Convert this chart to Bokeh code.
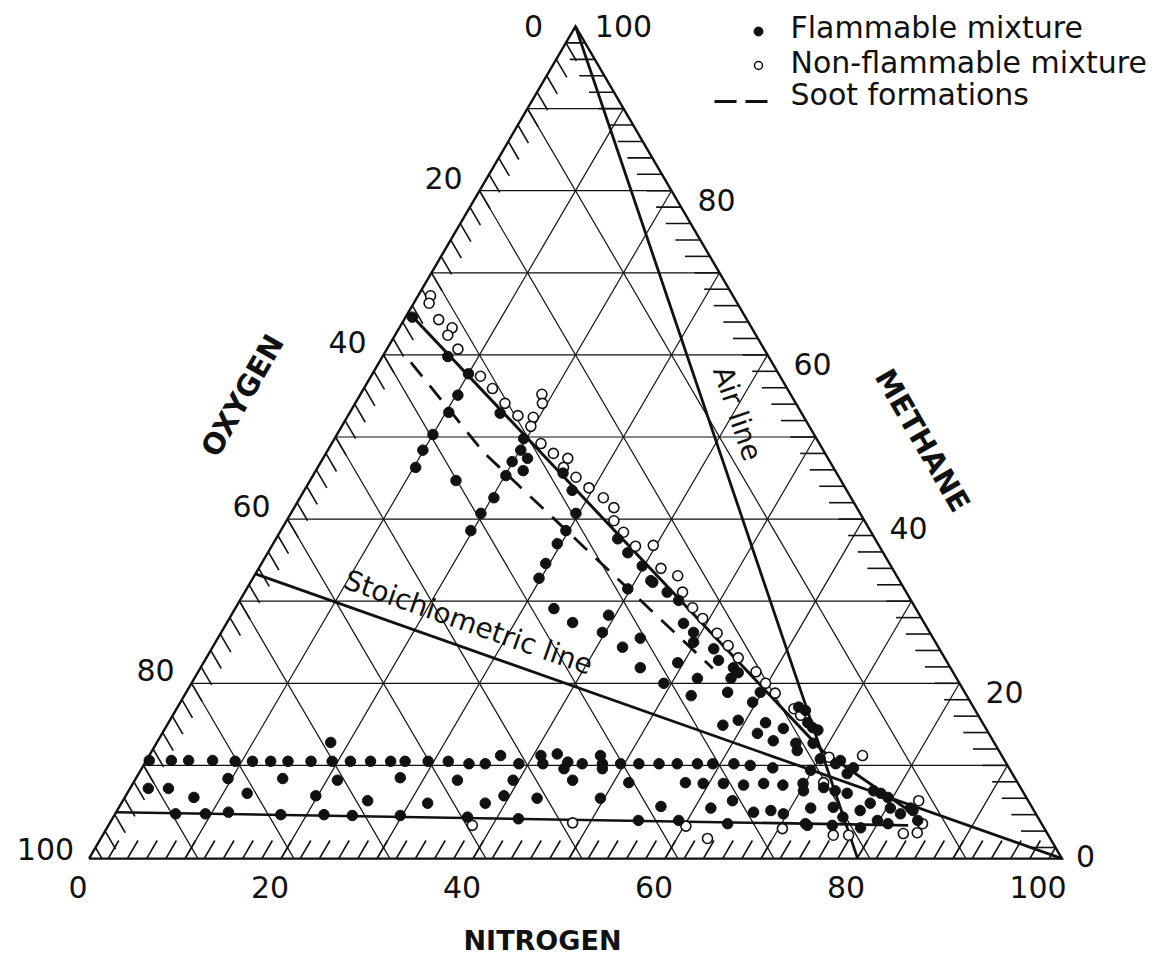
import numpy as np
from bokeh.plotting import figure
from bokeh.models import Range1d
from bokeh.core.properties import value
from bokeh.embed import file_html
from bokeh.resources import INLINE

# ---------------- data (ternary %) ----------------
# flammable mixtures: upper-left experiments
flam_a_nitrogen = [0.7, 6.8, 10.0, 10.2, 10.3, 10.0, 9.9, 10.2, 15.7, 19.7, 20.1, 19.9, 21.3, 21.6, 20.1, 20.2,
                   15.2, 25.9, 27.9, 19.8, 19.8, 29.7, 29.7, 29.6, 29.6, 29.8]
flam_a_methane = [64.6, 59.8, 57.7, 55.1, 53.0, 50.3, 48.4, 46.3, 52.9, 49.8, 48.4, 47.0, 47.4, 45.9, 45.3, 42.6,
                  44.7, 45.6, 43.5, 40.7, 38.6, 40.7, 38.6, 37.0, 34.6, 32.8]
# flammable mixtures: middle band
flam_b_nitrogen = [35.6, 37.5, 39.8, 41.9, 44.0, 45.7, 39.7, 39.3, 39.7, 33.2, 36.0, 42.7, 45.8, 47.6, 49.2, 49.8,
                   52.3, 53.5, 55.5, 56.3, 52.4, 55.9, 56.4, 52.8, 49.4, 49.2, 41.6, 44.0, 59.8, 59.6, 65.6, 66.6, 64.7]
flam_b_methane = [37.6, 35.9, 34.3, 32.3, 31.1, 30.1, 31.5, 28.3, 26.2, 29.1, 27.4, 24.4, 21.9, 27.3, 26.2, 25.0,
                  24.2, 22.8, 21.9, 21.3, 20.6, 20.6, 18.9, 18.5, 22.5, 20.0, 32.5, 25.5, 18.9, 17.7, 16.7, 15.2, 17.1]
# flammable mixtures: cluster near the nose of the envelope
flam_c_nitrogen = [57.9, 59.2, 62.2, 62.0, 64.4, 64.1, 67.2, 68.4, 68.1, 70.1, 72.0, 73.8, 74.1, 69.8, 70.3, 72.2,
                   73.6, 75.0, 74.4, 76.0, 77.4, 78.0, 78.5, 80.4, 81.8, 82.5, 84.0, 67.8, 72.1, 69.6, 72.5, 75.4,
                   78.5, 81.1, 79.8, 63.2, 65.7, 63.7, 65.7, 69.8, 66.4, 68.1, 77.6, 79.5, 82.9, 72.3, 67.4, 66.6]
flam_c_methane = [14.9, 15.5, 15.2, 13.9, 14.5, 13.0, 11.8, 12.7, 14.3, 10.8, 10.2, 9.0, 9.7, 9.4, 6.9, 7.3,
                  6.9, 6.6, 4.9, 3.7, 4.5, 5.4, 6.6, 4.8, 4.1, 4.8, 3.3, 7.6, 4.8, 4.1, 2.9, 2.7,
                  2.4, 2.9, 3.3, 10.0, 9.7, 7.6, 7.8, 7.8, 4.3, 4.5, 6.9, 6.1, 4.5, 10.6, 14.6, 12.7]
# flammable mixtures: row near 10 % methane
flam_row10_nitrogen = [0.3, 2.6, 4.4, 6.9, 9.3, 11.1, 13.0, 14.8, 17.2, 19.4, 21.3, 23.4, 25.5, 27.0, 29.4, 31.5,
                       33.8, 35.5, 36.6, 39.0, 40.8, 41.5, 42.4, 44.0, 44.0, 45.6, 45.6, 47.0, 47.7, 48.0,
                       49.6, 51.5, 53.6, 55.5, 57.6, 59.2, 61.4, 18.1]
flam_row10_methane = [10.6, 10.6, 10.6, 10.6, 10.5, 10.5, 10.5, 10.5, 10.5, 10.5, 10.5, 10.5, 10.5, 10.5, 10.5, 10.5,
                      10.2, 10.2, 11.2, 10.2, 11.2, 10.2, 11.4, 9.6, 10.4, 8.2, 10.2, 11.2, 10.2, 9.6,
                      10.2, 10.2, 10.2, 10.2, 10.2, 10.2, 10.2, 12.8]
# flammable mixtures: between the two low rows
flam_mid_nitrogen = [1.9, 4.0, 7.2, 9.6, 12.5, 15.3, 19.8, 21.1, 25.5, 27.5, 31.9, 33.6, 37.9, 39.4, 39.4, 43.0,
                     49.6, 51.6, 56.4, 57.5, 59.4, 61.7, 61.5, 63.5]
flam_mid_methane = [7.2, 7.2, 6.1, 8.4, 6.6, 8.4, 6.3, 8.2, 5.7, 8.5, 5.4, 8.2, 5.4, 6.3, 8.2, 6.0,
                    6.0, 7.9, 5.0, 7.9, 7.8, 4.8, 7.8, 5.7]
# flammable mixtures: lower-limit row
flam_row5_nitrogen = [6.3, 9.4, 11.7, 17.3, 21.8, 24.8, 29.8, 36.9, 42.3, 54.9, 59.1, 64.4, 72.8]
flam_row5_methane = [4.1, 4.1, 4.3, 4.0, 4.0, 3.9, 3.9, 3.7, 3.5, 3.3, 3.3, 2.9, 2.7]

# non-flammable mixtures
nonflam_nitrogen = [1.3, 1.6, 3.6, 5.5, 5.5, 7.4, 11.4, 13.4, 15.6, 17.7, 18.9, 19.5, 19.4, 19.7, 21.8, 23.7,
                    25.5, 25.6, 27.5, 29.5, 31.6, 33.3, 34.1, 35.8, 37.9, 39.7, 41.9, 44.1, 45.6, 47.6,
                    49.3, 51.7, 53.6, 55.4, 58.1, 59.8, 61.4, 64.3, 65.4, 74.3, 70.9, 71.9, 82.9, 84.7,
                    84.7, 83.3, 77.7, 76.1, 70.4, 37.9, 48.2, 60.2, 63.2]
nonflam_methane = [67.2, 66.3, 64.3, 63.3, 62.4, 60.7, 57.4, 55.9, 54.1, 52.6, 55.2, 54.1, 52.4, 51.3, 49.2, 48.0,
                   47.4, 46.3, 45.1, 43.8, 42.6, 41.4, 39.8, 38.4, 36.7, 36.8, 34.0, 33.1, 31.1, 29.2,
                   27.9, 26.1, 24.6, 23.1, 21.4, 20.0, 18.8, 16.9, 16.1, 11.2, 11.0, 7.9, 5.7, 2.9,
                   1.8, 1.7, 1.5, 1.5, 2.3, 2.7, 3.0, 2.6, 1.1]

# limit lines and soot line (ternary %)
upper_limit_nitrogen = [0.0, 69.8, 83.0]
upper_limit_methane = [65.2, 11.8, 4.2]
lower_limit_nitrogen = [0.0, 83.3]
lower_limit_methane = [4.3, 2.7]
soot_nitrogen = [3.3, 16.4, 53.4]
soot_methane = [59.1, 48.1, 21.8]
air_nitrogen = 79.0          # air = 79 % N2 / 21 % O2
stoich_o2_per_ch4 = 2.0      # CH4 + 2 O2

tick_values = [0, 20, 40, 60, 80, 100]
tick_labels = ["0", "20", "40", "60", "80", "100"]

# ---------------- ternary -> screen mapping ----------------
X0, SX, Y0, SY = 95.0, 9.6, 847.0, 8.21
M_BASE = -1.35   # drawn base of the triangle
INK = "#111111"
FONT = value("DejaVu Sans")
W, H = 1160, 964


def tx(n, m):
    return X0 + (np.asarray(n, float) + np.asarray(m, float) / 2.0) * SX


def ty(m):
    return Y0 - np.asarray(m, float) * SY


p = figure(width=W, height=H, x_range=Range1d(0, W), y_range=Range1d(H, 0),
           toolbar_location=None, output_backend="svg", min_border=0,
           x_axis_location=None, y_axis_location=None)
p.grid.visible = False
p.outline_line_color = None
p.background_fill_color = "white"
p.border_fill_color = "white"

# grid lines
gx, gy = [], []
for k in range(10, 100, 10):
    gx.append([float(tx(0, k)), float(tx(100 - k, k))]); gy.append([float(ty(k))] * 2)
    gx.append([float(tx(k, 100 - k)), float(tx(k, M_BASE))]); gy.append([float(ty(100 - k)), float(ty(M_BASE))])
    gx.append([float(tx(0, 100 - k)), float(tx(100 - k - M_BASE, M_BASE))]); gy.append([float(ty(100 - k)), float(ty(M_BASE))])
p.multi_line(gx, gy, line_color=INK, line_width=1.2)

# hatch ticks
hx, hy = [], []
HB, HL, HR = 2.2, 2.2, 2.6
for v in range(2, 101, 2):
    # bottom (nitrogen) - along constant-N lines
    m_end = min(M_BASE + HB, 100 - v)
    if m_end > M_BASE:
        hx.append([float(tx(v, M_BASE)), float(tx(v, m_end))]); hy.append([float(ty(M_BASE)), float(ty(m_end))])
    # left (oxygen) - along constant-O lines
    ms = 100 - v
    L = min(HL, ms - M_BASE)
    hx.append([float(tx(0, ms)), float(tx(L, ms - L))]); hy.append([float(ty(ms)), float(ty(ms - L))])
for v in range(0, 100, 2):
    ns = 100 - v
    ne = max(ns - HR, 0)
    hx.append([float(tx(ns, v)), float(tx(ne, v))]); hy.append([float(ty(v))] * 2)
p.multi_line(hx, hy, line_color=INK, line_width=1.6)

# triangle
tri_n = [0, 100 - M_BASE, 0, 0]
tri_m = [M_BASE, M_BASE, 100, M_BASE]
p.line(tx(tri_n, tri_m), ty(tri_m), line_color=INK, line_width=2.4, line_join="miter")

# air line and stoichiometric line
air_end_n = air_nitrogen * (1 - M_BASE / 100.0)
p.line(tx([0, air_end_n], [100, M_BASE]), ty([100, M_BASE]), line_color=INK, line_width=2.8)
st_m = 100.0 / (1 + stoich_o2_per_ch4)
p.line(tx([0, 100 - M_BASE], [st_m, M_BASE]), ty([st_m, M_BASE]), line_color=INK, line_width=2.8)

# flammability limits and soot line
p.line(tx(upper_limit_nitrogen, upper_limit_methane), ty(upper_limit_methane), line_color=INK, line_width=3)
p.line(tx(lower_limit_nitrogen, lower_limit_methane), ty(lower_limit_methane), line_color=INK, line_width=2.6)
p.line(tx(soot_nitrogen, soot_methane), ty(soot_methane), line_color=INK, line_width=2.8, line_dash="18 12")

# points
fn = flam_a_nitrogen + flam_b_nitrogen + flam_c_nitrogen + flam_row10_nitrogen + flam_mid_nitrogen + flam_row5_nitrogen
fm = flam_a_methane + flam_b_methane + flam_c_methane + flam_row10_methane + flam_mid_methane + flam_row5_methane
p.scatter(tx(nonflam_nitrogen, nonflam_methane), ty(nonflam_methane), marker="circle", size=10,
          fill_color="white", line_color=INK, line_width=1.6)
p.scatter(tx(fn, fm), ty(fm), marker="circle", size=10.5, fill_color=INK, line_color=INK)

# tick labels
TS = value("30px")
nx = [float(tx(v, M_BASE)) - 11 for v in tick_values]
p.text(nx, [886] * 6, text=tick_labels, text_font=FONT, text_font_size=TS,
       text_align="center", text_baseline="middle", text_color=INK)

ox, oy = [], []
for v in tick_values:
    ms = 100 - v
    dx, dy = (-36, -13)
    if v == 0:
        dx, dy = (-42, -1)
    if v == 100:
        dx, dy = (-50, 1)
    ox.append(float(tx(0, ms)) + dx); oy.append(float(ty(ms)) + dy)
p.text(ox, oy, text=tick_labels, text_font=FONT, text_font_size=TS,
       text_align="center", text_baseline="middle", text_color=INK)

mx, my = [], []
for v in tick_values:
    dx, dy = (45, 9)
    if v == 100:
        dx, dy = (48, -1)
    if v == 0:
        dx, dy = (30, 8)
    mx.append(float(tx(100 - v, v)) + dx); my.append(float(ty(v)) + dy)
p.text(mx, my, text=tick_labels, text_font=FONT, text_font_size=TS,
       text_align="center", text_baseline="middle", text_color=INK)

# axis titles
BOLD = dict(text_font=FONT, text_font_style="bold",
            text_align="center", text_baseline="middle", text_color=INK)
p.text([542], [940], text=["NITROGEN"], text_font_size=value("27px"), **BOLD)
p.text([242], [395], text=["OXYGEN"], angle=np.deg2rad(60), text_font_size=value("29px"), **BOLD)
p.text([922], [440], text=["METHANE"], angle=np.deg2rad(-60), text_font_size=value("29px"), **BOLD)

# line annotations
NORM = dict(text_font=FONT, text_font_size=value("28px"), text_align="center",
            text_baseline="middle", text_color=INK)
p.text([737], [413], text=["Air line"], angle=np.deg2rad(-71.3), **NORM)
p.text([468], [622], text=["Stoichiometric line"], angle=np.deg2rad(-19.5), **NORM)

# legend
p.scatter([758], [31], marker="circle", size=9, fill_color=INK, line_color=INK)
p.scatter([758], [65], marker="circle", size=8, fill_color="white", line_color=INK, line_width=1.5)
p.line([714, 768], [101, 101], line_color=INK, line_width=2.8, line_dash="22 9")
LEG = dict(text_font=FONT, text_font_size=value("30px"), text_align="left",
           text_baseline="middle", text_color=INK)
p.text([790, 790, 790], [27, 62, 94],
       text=["Flammable mixture", "Non-flammable mixture", "Soot formations"], **LEG)

open("out.html", "w").write(file_html(p, INLINE))
